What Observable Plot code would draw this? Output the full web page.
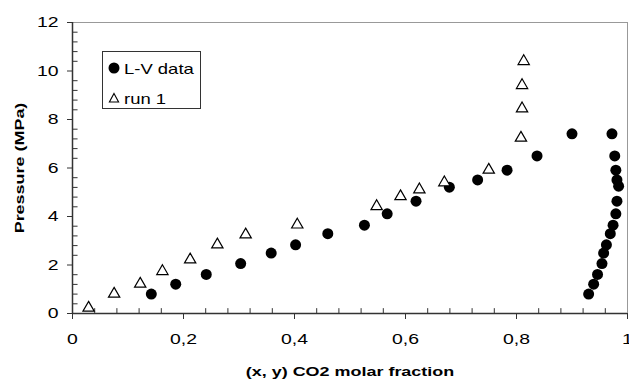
<!DOCTYPE html>
<html>
<head>
<meta charset="utf-8">
<script src="https://cdn.jsdelivr.net/npm/d3@7"></script>
<script src="https://cdn.jsdelivr.net/npm/@observablehq/plot@0.6"></script>
<style>
  html, body { margin: 0; padding: 0; background: #fff; }
  #wrap { position: relative; width: 629px; height: 379px; font-family: "Liberation Sans", Arial, sans-serif; }
  #wrap svg [aria-label="x-axis label"] text, #wrap svg [aria-label="y-axis label"] text { font-weight: bold; font-size: 13.5px; }
  #legend { position: absolute; left: 102px; top: 51px; }
</style>
</head>
<body>
<div id="wrap"></div>
<script>
// L-V data (circles): CO2 molar fraction, pressure MPa
const lvX = [0.142, 0.186, 0.241, 0.303, 0.358, 0.402, 0.460, 0.526, 0.567, 0.619, 0.679, 0.730, 0.783, 0.837, 0.900,
             0.972, 0.977, 0.979, 0.981, 0.984, 0.981, 0.979, 0.974, 0.969, 0.962, 0.957, 0.954, 0.946, 0.939, 0.930];
const lvP = [0.80, 1.21, 1.61, 2.06, 2.49, 2.83, 3.29, 3.64, 4.11, 4.63, 5.21, 5.51, 5.91, 6.50, 7.41,
             7.41, 6.50, 5.91, 5.51, 5.25, 4.63, 4.11, 3.64, 3.29, 2.83, 2.49, 2.06, 1.61, 1.21, 0.80];
// run 1 (triangles)
const runX = [0.029, 0.075, 0.122, 0.162, 0.212, 0.261, 0.312, 0.405, 0.548, 0.591, 0.625, 0.670, 0.750, 0.808, 0.810, 0.810, 0.813];
const runP = [0.23, 0.81, 1.22, 1.74, 2.22, 2.84, 3.25, 3.66, 4.42, 4.83, 5.11, 5.40, 5.92, 7.24, 8.45, 9.41, 10.40];

const xMajor = [0, 0.2, 0.4, 0.6, 0.8, 1];
const yMajor = [0, 2, 4, 6, 8, 10, 12];
const xMinor = d3.range(0, 1.0001, 0.04).map(v => +v.toFixed(2)).filter(v => !xMajor.includes(v));
const yMinor = d3.range(0, 12.0001, 0.4).map(v => +v.toFixed(1)).filter(v => !yMajor.includes(v));
const seriesNames = ["L-V data", "run 1"];

const lv = lvX.map((x, i) => ({x, p: lvP[i]}));
const run = runX.map((x, i) => ({x, p: runP[i]}));
const fmt = d => String(d).replace(".", ",");

const chart = Plot.plot({
  width: 629,
  height: 379,
  marginLeft: 72,
  marginRight: 2,
  marginTop: 22,
  marginBottom: 66,
  style: {fontFamily: "Liberation Sans, Arial, sans-serif", fontSize: "15.5px", color: "#000", background: "#fff"},
  x: {domain: [0, 1]},
  y: {domain: [0, 12]},
  marks: [
    Plot.frame({stroke: "#999", strokeWidth: 1}),
    Plot.ruleX(xMinor, {x: d => d, y1: 0, y2: 0.2, stroke: "#333"}),
    Plot.ruleY(yMinor, {y: d => d, x1: 0, x2: 0.01, stroke: "#333"}),
    Plot.axisX({ticks: xMajor, tickFormat: fmt, tickSize: 6, tickPadding: 13, stroke: "#333",
      label: "(x, y) CO2 molar fraction", labelAnchor: "center", labelArrow: "none", labelOffset: 62}),
    Plot.axisY({ticks: yMajor, tickFormat: fmt, tickSize: 5, tickPadding: 9, stroke: "#333",
      label: "Pressure (MPa)", labelAnchor: "center", labelArrow: "none", labelOffset: 58}),
    Plot.ruleX([0], {stroke: "#333", strokeWidth: 1.5}),
    Plot.ruleY([0], {stroke: "#333", strokeWidth: 1.5}),
    Plot.dot(lv, {x: "x", y: "p", r: 5.5, fill: "#000", stroke: "none"}),
    Plot.dot(run, {x: "x", y: "p", symbol: "triangle", r: 4.2, fill: "#fff", stroke: "#000", strokeWidth: 1.2})
  ]
});
const wrap = document.getElementById("wrap");
wrap.appendChild(chart);

// Legend (inside the plot area, as in the reference)
const ns = "http://www.w3.org/2000/svg";
const leg = document.createElementNS(ns, "svg");
leg.setAttribute("id", "legend");
leg.setAttribute("width", 100);
leg.setAttribute("height", 59);
leg.innerHTML = `
  <rect x="0.5" y="0.5" width="98" height="57" fill="#fff" stroke="#333" stroke-width="1"/>
  <circle cx="12" cy="17" r="5.5" fill="#000"/>
  <path d="M12,42.5 L16.6,51 L7.4,51 Z" fill="#fff" stroke="#000" stroke-width="1.1"/>
  <text x="22" y="22.5" font-size="15" font-family="Liberation Sans, Arial, sans-serif">${seriesNames[0]}</text>
  <text x="22" y="52.5" font-size="15" font-family="Liberation Sans, Arial, sans-serif">${seriesNames[1]}</text>`;
wrap.appendChild(leg);

// The reference's text is horizontally stretched; widen glyphs to match.
function stretch(t, k) {
  const L = t.getComputedTextLength();
  if (L > 0) {
    t.setAttribute("textLength", (L * k).toFixed(1));
    t.setAttribute("lengthAdjust", "spacingAndGlyphs");
  }
}
chart.querySelectorAll('[aria-label="x-axis tick label"] text, [aria-label="y-axis tick label"] text').forEach(t => stretch(t, 1.25));
chart.querySelectorAll('[aria-label="x-axis label"] text, [aria-label="y-axis label"] text').forEach(t => stretch(t, 1.33));
leg.querySelectorAll("text").forEach(t => stretch(t, 1.23));
</script>
</body>
</html>
